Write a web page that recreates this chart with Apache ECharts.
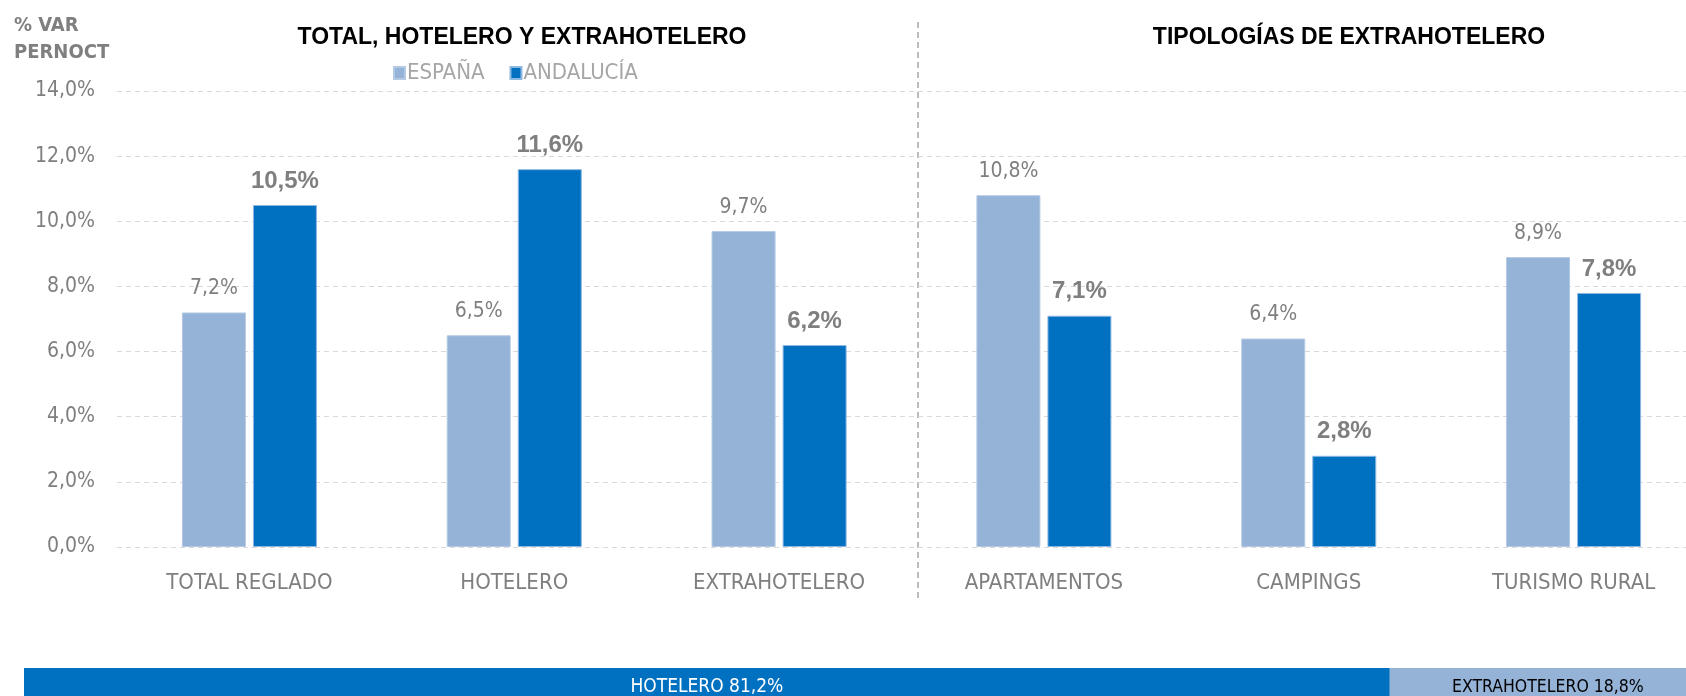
<!DOCTYPE html>
<html><head><meta charset="utf-8">
<script src="https://cdn.jsdelivr.net/npm/echarts@6/dist/echarts.min.js"></script>
<style>html,body{margin:0;padding:0;background:#fff;overflow:hidden;width:1686px;height:696px}#c{width:1706px;height:720px}</style>
</head><body><div id="c"></div>
<script>
const categories = ['TOTAL REGLADO','HOTELERO','EXTRAHOTELERO','APARTAMENTOS','CAMPINGS','TURISMO RURAL'];
const espana = [7.2, 6.5, 9.7, 10.8, 6.4, 8.9];
const andalucia = [10.5, 11.6, 6.2, 7.1, 2.8, 7.8];
const seriesNames = ['ESPAÑA','ANDALUCÍA'];
const shareNames = ['HOTELERO','EXTRAHOTELERO'];
const shareValues = [81.2, 18.8];
const yMin = 0, yMax = 14, yStep = 2;

const NARROW = "'Liberation Sans Narrow','Arial Narrow','DejaVu Sans Condensed',sans-serif";
const SANS = "'Liberation Sans',Arial,sans-serif";
const fmt = v => v.toFixed(1).replace('.', ',') + '%';

const chart = echarts.init(document.getElementById('c'));
chart.setOption({
  animation: false,
  backgroundColor: '#fff',
  textStyle: {fontFamily: NARROW},
  title: [
    {text: 'TOTAL, HOTELERO Y EXTRAHOTELERO', left: 517, top: 21, textAlign: 'center',
     textStyle: {fontFamily: SANS, fontWeight: 'bold', fontSize: 23, color: '#000'}},
    {text: 'TIPOLOGÍAS DE EXTRAHOTELERO', left: 1344, top: 21, textAlign: 'center',
     textStyle: {fontFamily: SANS, fontWeight: 'bold', fontSize: 23, color: '#000'}},
    {text: '% VAR\nPERNOCT', left: 9, top: 7,
     textStyle: {fontFamily: NARROW, fontWeight: 'bold', fontSize: 20, lineHeight: 27, color: '#7F7F7F'}}
  ],
  legend: {
    data: seriesNames, left: 388, top: 57, itemWidth: 11, itemHeight: 12, itemGap: 25,
    icon: 'rect',
    textStyle: {fontFamily: NARROW, fontSize: 22, color: '#A6A6A6', padding: [0,0,0,-3]}
  },
  grid: [
    {left: 117, top: 91, right: 0, height: 456},
    {left: 24, top: 668, right: 0, height: 38}
  ],
  xAxis: [
    {type: 'category', data: categories, gridIndex: 0,
     axisLine: {show: false}, axisTick: {show: false},
     axisLabel: {fontFamily: NARROW, fontSize: 22, color: '#7F7F7F', margin: 25}},
    {type: 'value', gridIndex: 1, min: 0, max: 100, show: false}
  ],
  yAxis: [
    {type: 'value', gridIndex: 0, min: yMin, max: yMax, interval: yStep,
     axisLine: {show: false}, axisTick: {show: false},
     axisLabel: {fontFamily: NARROW, fontSize: 21, color: '#7F7F7F', margin: 22, formatter: v => fmt(v)},
     splitLine: {show: true, lineStyle: {color: '#D9D9D9', width: 1, type: [5, 4]}}},
    {type: 'category', gridIndex: 1, data: ['share'], show: false}
  ],
  series: [
    {name: seriesNames[0], type: 'bar', data: espana, barWidth: 64, barGap: '11%',
     itemStyle: {color: '#95B3D7', borderColor: '#B4C9E4', borderWidth: 1},
     label: {show: true, position: 'top', distance: 13, fontFamily: NARROW, fontSize: 21, color: '#7F7F7F', formatter: p => fmt(p.value)}},
    {name: seriesNames[1], type: 'bar', data: andalucia, barWidth: 64, barGap: '11%',
     itemStyle: {color: '#0070C0', borderColor: '#8DB8E2', borderWidth: 1},
     label: {show: true, position: 'top', distance: 12, fontFamily: SANS, fontWeight: 'bold', fontSize: 24, color: '#7F7F7F', formatter: p => fmt(p.value)}},
    {name: shareNames[0], type: 'bar', stack: 'share', xAxisIndex: 1, yAxisIndex: 1, barWidth: 38,
     data: [shareValues[0]], itemStyle: {color: '#0070C0'},
     label: {show: true, position: 'inside', fontFamily: NARROW, fontSize: 19, color: '#fff',
       formatter: p => shareNames[0] + ' ' + fmt(p.value)}},
    {name: shareNames[1], type: 'bar', stack: 'share', xAxisIndex: 1, yAxisIndex: 1, barWidth: 38,
     data: [shareValues[1]], itemStyle: {color: '#95B3D7'},
     label: {show: true, position: 'inside', fontFamily: NARROW, fontSize: 17.5, color: '#000',
       formatter: p => shareNames[1] + ' ' + fmt(p.value)}}
  ],
  graphic: [
    {type: 'line', shape: {x1: 918, y1: 22, x2: 918, y2: 600},
     style: {stroke: '#A6A6A6', lineWidth: 1.5, lineDash: [6, 4]}}
  ]
});
</script></body></html>
